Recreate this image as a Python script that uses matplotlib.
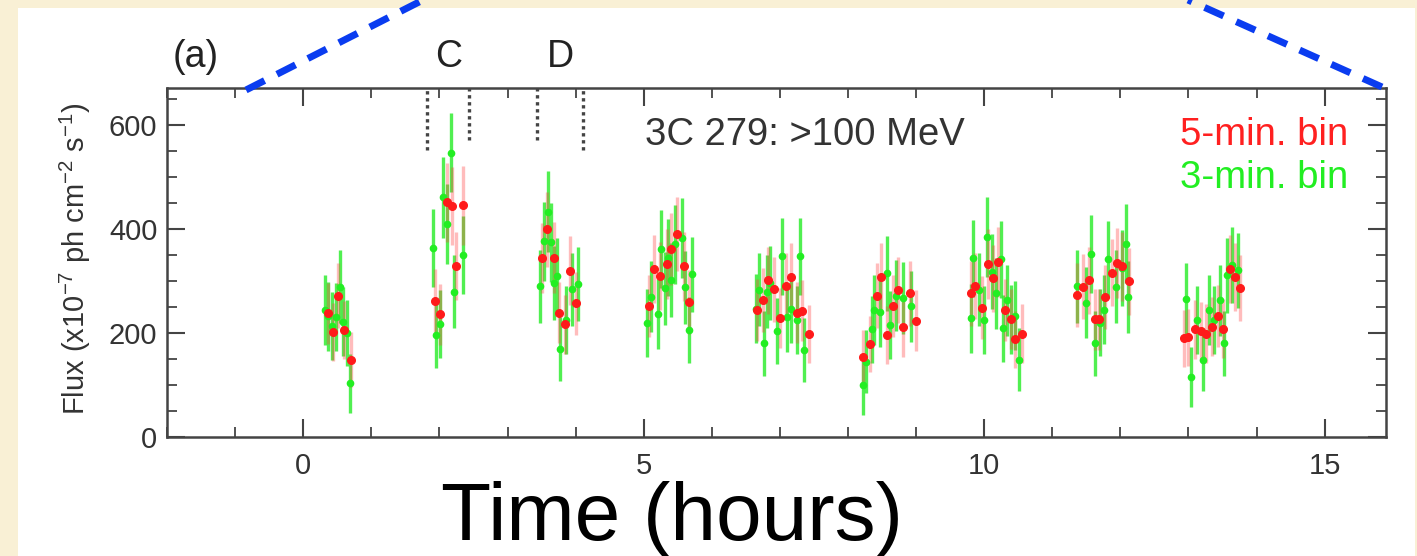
import matplotlib
matplotlib.use("Agg")
import matplotlib.pyplot as plt
from matplotlib.patches import Rectangle
from matplotlib.lines import Line2D
from matplotlib.ticker import MultipleLocator

plt.rcParams['font.family'] = ['Liberation Sans', 'DejaVu Sans']
plt.rcParams['mathtext.default'] = 'regular'

# 5-min bins (red)
t5 = [0.357, 0.436, 0.509, 0.602, 0.695,
      1.928, 2.011, 2.109, 2.18, 2.24, 2.34,
      3.513, 3.586, 3.684, 3.758, 3.846, 3.924, 4.012,
      5.08, 5.157, 5.245, 5.34, 5.406, 5.494, 5.59, 5.66,
      6.66, 6.747, 6.83, 6.918, 7.0, 7.085, 7.17, 7.246, 7.33, 7.42,
      8.224, 8.32, 8.43, 8.48, 8.567, 8.655, 8.74, 8.81, 8.905, 9.0,
      9.805, 9.87, 9.97, 10.06, 10.13, 10.205, 10.30, 10.39, 10.45, 10.55,
      11.37, 11.45, 11.54, 11.625, 11.69, 11.78, 11.87, 11.95, 12.03, 12.12,
      12.935, 13.0, 13.09, 13.18, 13.26, 13.35, 13.435, 13.51, 13.61, 13.68, 13.76]
f5 = [238, 202, 272, 206, 149,
      262, 236, 451, 444, 329, 446,
      344, 399, 345, 239, 217, 320, 257,
      252, 323, 310, 333, 361, 390, 328, 260,
      244, 263, 301, 284, 229, 290, 308, 239, 243, 198,
      153, 179, 272, 308, 196, 252, 283, 211, 276, 224,
      276, 290, 249, 333, 305, 337, 244, 227, 188, 199,
      273, 289, 301, 226, 226, 269, 316, 335, 328, 299,
      190, 192, 207, 203, 199, 212, 233, 208, 323, 308, 286]
e5 = [59, 56, 62, 56, 52,
      61, 59, 76, 75, 66, 76,
      68, 72, 68, 59, 57, 66, 61,
      60, 66, 65, 67, 69, 71, 66, 61,
      60, 61, 64, 63, 58, 63, 65, 59, 59, 56,
      52, 54, 62, 65, 56, 60, 63, 57, 62, 58,
      62, 63, 60, 67, 64, 67, 60, 58, 55, 56,
      62, 63, 64, 58, 58, 62, 65, 67, 66, 64,
      55, 55, 57, 56, 56, 57, 59, 57, 66, 65, 63]

# 3-min bins (green)
t3 = [0.323, 0.37, 0.42, 0.484, 0.543, 0.59, 0.64, 0.69,
      1.90, 1.955, 2.005, 2.05, 2.11, 2.165, 2.21, 2.34,
      3.47, 3.54, 3.59, 3.635, 3.68, 3.73, 3.77, 3.856, 3.94, 4.03,
      5.05, 5.10, 5.215, 5.26, 5.31, 5.36, 5.40, 5.465, 5.56, 5.61, 5.66, 5.705,
      6.65, 6.69, 6.76, 6.81, 6.85, 6.95, 7.03, 7.11, 7.16, 7.25, 7.29, 7.35,
      8.22, 8.27, 8.35, 8.38, 8.47, 8.57, 8.62, 8.70, 8.81, 8.93,
      9.80, 9.84, 9.92, 10.0, 10.035, 10.11, 10.18, 10.245, 10.28, 10.34, 10.40, 10.45, 10.51,
      11.356, 11.49, 11.575, 11.625, 11.70, 11.76, 11.82, 11.94, 12.02, 12.08, 12.11,
      12.96, 13.03, 13.12, 13.21, 13.30, 13.38, 13.46, 13.52, 13.56, 13.64, 13.72]
f3 = [244, 232, 214, 231, 289, 222, 200, 103,
      364, 196, 217, 461, 410, 547, 279, 350,
      290, 376, 433, 374, 296, 310, 169, 225, 284, 294,
      219, 270, 237, 362, 286, 345, 302, 371, 382, 288, 206, 313,
      247, 283, 180, 279, 296, 204, 348, 230, 247, 225, 348, 167,
      100, 145, 207, 244, 241, 315, 215, 272, 268, 251,
      228, 344, 283, 225, 385, 318, 276, 342, 209, 263, 226, 233, 149,
      290, 258, 352, 180, 220, 245, 342, 289, 325, 372, 269,
      265, 116, 225, 148, 244, 225, 263, 180, 311, 330, 321]
e3 = [67, 66, 65, 66, 70, 66, 64, 57,
      75, 64, 65, 78, 77, 76, 70, 75,
      70, 76, 78, 76, 71, 72, 62, 66, 70, 71,
      65, 69, 67, 75, 70, 74, 71, 76, 77, 70, 64, 72,
      67, 70, 63, 70, 71, 64, 74, 66, 67, 66, 74, 62,
      57, 60, 64, 67, 67, 72, 65, 69, 69, 68,
      66, 74, 70, 66, 77, 72, 69, 74, 65, 68, 66, 66, 60,
      70, 68, 75, 63, 65, 67, 74, 70, 73, 76, 69,
      69, 58, 66, 60, 67, 66, 68, 63, 72, 73, 72]

# flare intervals C and D (hours)
cd_lines = [1.82, 2.44, 3.43, 4.11]
cd_bottom = [552, 571, 571, 552]
cd_labels = ['C', 'D']
cd_centers = [2.13, 3.77]

fig = plt.figure(figsize=(14.17, 5.56), dpi=100, facecolor='#f9f0d5')
fig.add_artist(Rectangle((18 / 1417, 0), 1397 / 1417, 1 - 8 / 556,
                         transform=fig.transFigure, facecolor='white',
                         edgecolor='none', zorder=0))

ax = fig.add_axes([0.1179, 0.214, 0.8602, 0.6277])
ax.set_facecolor('white')

ax.errorbar(t3, f3, yerr=e3, fmt='none', ecolor=(0.2, 0.93, 0.2, 0.85),
            elinewidth=2.4, capsize=0, zorder=2)
ax.errorbar(t5, f5, yerr=e5, fmt='none', ecolor=(1.0, 0.25, 0.25, 0.35),
            elinewidth=2.4, capsize=0, zorder=3)
ax.plot(t3, f3, 'o', color='#22ee22', ms=4.5, zorder=4)
ax.plot(t5, f5, 'o', color='#ff1a1a', ms=5.5, zorder=5)

for x, yb in zip(cd_lines, cd_bottom):
    ax.plot([x, x], [yb, 671], color='#444444', lw=2.4, ls=(0, (1, 1.1)),
            clip_on=False, zorder=1)
for lab, xc in zip(cd_labels, cd_centers):
    ax.text(xc, 1.06, lab, transform=ax.get_xaxis_transform(), ha='center',
            va='baseline', fontsize=27, color='#222222')
ax.text(-1.58, 1.06, '(a)', transform=ax.get_xaxis_transform(), ha='center',
        va='baseline', fontsize=27, color='#222222')

ax.text(5.02, 0.837, '3C 279: >100 MeV', transform=ax.get_xaxis_transform(),
        ha='left', va='baseline', fontsize=27.5, color='#333333')
ax.text(0.969, 0.837, '5-min. bin', transform=ax.transAxes, ha='right',
        va='baseline', fontsize=27.5, color='#ff2020')
ax.text(0.969, 0.713, '3-min. bin', transform=ax.transAxes, ha='right',
        va='baseline', fontsize=27.5, color='#22ee22')

ax.set_xlim(-2, 15.9)
ax.set_ylim(0, 671)
ax.xaxis.set_major_locator(MultipleLocator(5))
ax.xaxis.set_minor_locator(MultipleLocator(1))
ax.yaxis.set_major_locator(MultipleLocator(200))
ax.yaxis.set_minor_locator(MultipleLocator(50))
ax.tick_params(which='both', direction='in', top=True, right=True,
               color='#444444', labelcolor='#333333', labelsize=21)
ax.tick_params(which='major', length=13, width=1.5)
ax.tick_params(which='minor', length=7, width=1.3)
ax.tick_params(axis='x', pad=11)
ax.tick_params(axis='y', pad=7)
for s in ax.spines.values():
    s.set_linewidth(1.8)
    s.set_color('#444444')

fig.text(75 / 1417, 1 - 259 / 556, r'Flux (x10$^{-7}$ ph cm$^{-2}$ s$^{-1}$)',
         rotation=90, ha='center', va='center', fontsize=21, color='#333333')
fig.text(672 / 1417, 1 - 540 / 556, 'Time (hours)', ha='center',
         va='baseline', fontsize=59, color='black')

# blue zoom guide lines
for (x0, y0), (x1, y1) in [((246, 90), (423, 0)), ((1382, 87), (1188, 0))]:
    fig.add_artist(Line2D([x0 / 1417, x1 / 1417], [1 - y0 / 556, 1 - y1 / 556],
                          transform=fig.transFigure, color='#0a3cf0', lw=5,
                          dashes=(3, 2), dash_capstyle='butt', zorder=10))

fig.savefig('out.png', dpi=100, facecolor=fig.get_facecolor())
